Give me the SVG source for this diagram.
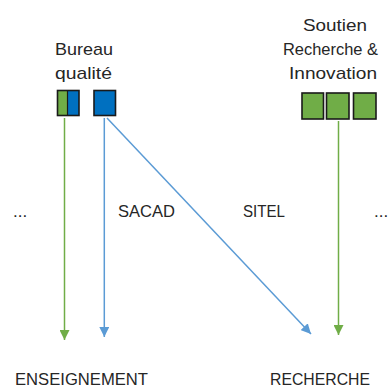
<svg xmlns="http://www.w3.org/2000/svg" width="390" height="389" viewBox="0 0 390 389">
<defs>
<style>
text{font-family:"Liberation Sans",Arial,sans-serif;font-size:17px;fill:#262626}
.box{stroke:#1a1a1a;stroke-width:1.6}
.g{fill:#70AD47}
.b{fill:#0070C0}
.lg{stroke:#70AD47;stroke-width:1.5;fill:none}
.lb{stroke:#5B9BD5;stroke-width:1.5;fill:none}
</style>
<marker id="ag" viewBox="0 0 10 10" refX="10" refY="5" markerUnits="userSpaceOnUse" markerWidth="10" markerHeight="10" orient="auto"><path d="M0,0 L10,5 L0,10 z" fill="#70AD47"/></marker>
<marker id="ab" viewBox="0 0 10 10" refX="10" refY="5" markerUnits="userSpaceOnUse" markerWidth="10" markerHeight="10" orient="auto"><path d="M0,0 L10,5 L0,10 z" fill="#5B9BD5"/></marker>
</defs>
<rect width="390" height="389" fill="#ffffff"/>
<g id="bureau-qualite">
<text x="55" y="55" textLength="58" lengthAdjust="spacingAndGlyphs">Bureau</text>
<text x="55" y="79" textLength="57" lengthAdjust="spacingAndGlyphs">qualité</text>
<rect class="g" x="57.5" y="90.5" width="10" height="25"/>
<rect class="b" x="67.5" y="90.5" width="11.5" height="25"/>
<rect class="box" x="57.5" y="90.5" width="21.5" height="25" fill="none"/>
<line x1="67.5" y1="90.5" x2="67.5" y2="115.5" stroke="#1a1a1a" stroke-width="1.2"/>
<rect class="box b" x="94" y="90.5" width="21.5" height="25"/>
</g>
<g id="soutien-recherche">
<text x="303" y="31" textLength="64" lengthAdjust="spacingAndGlyphs">Soutien</text>
<text x="283" y="55" textLength="95" lengthAdjust="spacingAndGlyphs">Recherche &amp;</text>
<text x="289" y="79" textLength="88" lengthAdjust="spacingAndGlyphs">Innovation</text>
<rect class="box g" x="302" y="93" width="21.5" height="26"/>
<rect class="box g" x="326.5" y="93" width="22.5" height="26"/>
<rect class="box g" x="353.5" y="93" width="22.5" height="26"/>
</g>
<g id="connectors">
<line class="lg" x1="64.5" y1="118" x2="64.5" y2="340" marker-end="url(#ag)"/>
<line class="lb" x1="104.3" y1="118" x2="104.3" y2="337" marker-end="url(#ab)"/>
<line class="lb" x1="107" y1="118" x2="311" y2="334" marker-end="url(#ab)"/>
<line class="lg" x1="338.5" y1="121" x2="338.5" y2="335" marker-end="url(#ag)"/>
</g>
<g id="sacad"><text x="118" y="217" textLength="57" lengthAdjust="spacingAndGlyphs">SACAD</text></g>
<g id="sitel"><text x="243" y="217" textLength="42" lengthAdjust="spacingAndGlyphs">SITEL</text></g>
<g id="dots-left"><text x="13" y="217">...</text></g>
<g id="dots-right"><text x="374" y="217">...</text></g>
<g id="enseignement"><text x="15" y="385" textLength="133" lengthAdjust="spacingAndGlyphs">ENSEIGNEMENT</text></g>
<g id="recherche"><text x="270" y="385" textLength="100" lengthAdjust="spacingAndGlyphs">RECHERCHE</text></g>
</svg>
